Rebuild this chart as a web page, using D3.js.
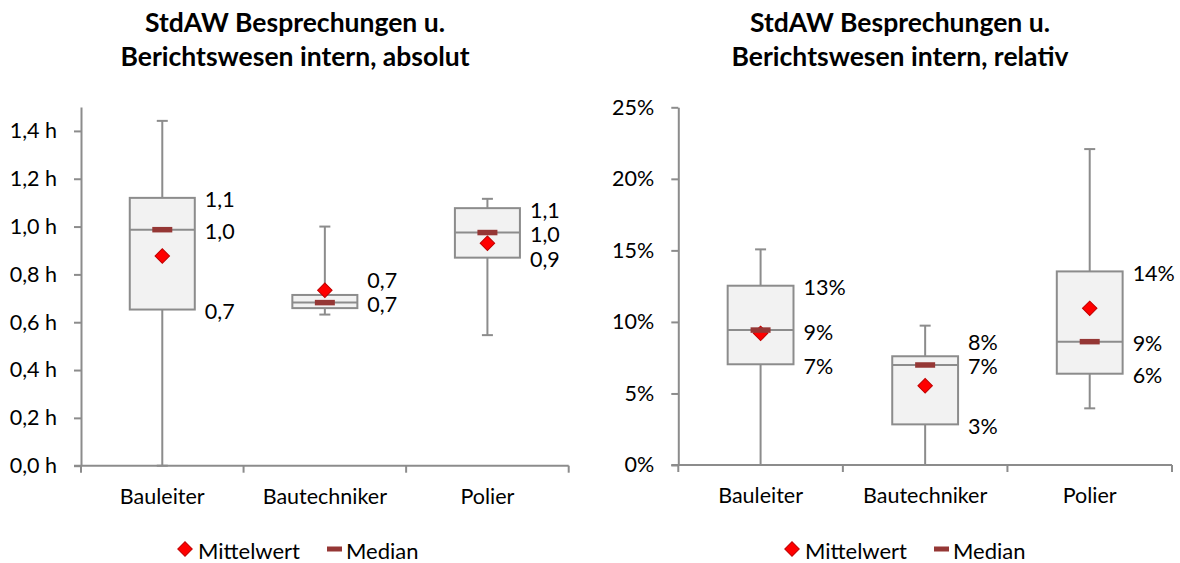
<!DOCTYPE html>
<html>
<head>
<meta charset="utf-8">
<script src="https://cdn.jsdelivr.net/npm/d3@7/dist/d3.min.js"></script>
<style>
  html, body { margin: 0; padding: 0; background: #ffffff; }
  svg { display: block; font-family: Lato, "Open Sans", sans-serif; }
</style>
</head>
<body>
<svg id="chart" width="1180" height="563"></svg>
<script>
// Categories shared by both panels
const categories = ["Bauleiter", "Bautechniker", "Polier"];

// Absolute time (hours)
const absMin    = [0.000, 0.632, 0.546];
const absQ1     = [0.653, 0.659, 0.870];
const absMedian = [0.987, 0.682, 0.975];
const absQ3     = [1.120, 0.714, 1.077];
const absMax    = [1.442, 1.000, 1.116];
const absMean   = [0.877, 0.734, 0.930];
const absTicks  = [0, 0.2, 0.4, 0.6, 0.8, 1.0, 1.2, 1.4];

// Relative share (percent)
const relMin    = [0.00, 0.00, 3.96];
const relQ1     = [7.04, 2.84, 6.38];
const relMedian = [9.43, 6.99, 8.62];
const relQ3     = [12.53, 7.60, 13.53];
const relMax    = [15.07, 9.74, 22.08];
const relMean   = [9.20, 5.54, 10.95];
const relTicks  = [0, 5, 10, 15, 20, 25];

const legendLabels = ["Mittelwert", "Median"];

const svg = d3.select("#chart");
const axisColor = "#8c8c8c";
const medianColor = "#953735";
const meanColor = "#ff0000";
const meanStroke = "#c00000";
const boxFill = "#f2f2f2";
const fontSize = 21.5;

function rows(min, q1, med, q3, max, mean) {
  return categories.map((c, i) => ({
    cat: c, min: min[i], q1: q1[i], med: med[i], q3: q3[i], max: max[i], mean: mean[i]
  }));
}

function drawPanel(cfg) {
  const g = svg.append("g");
  const y = d3.scaleLinear().domain(cfg.domain).range([cfg.bottom, cfg.top]);
  const x = d3.scaleBand().domain(categories).range([cfg.left, cfg.right]).padding(0);
  const boxW = x.bandwidth() * 0.4;
  const capW = 11;

  // Title (two lines)
  const title = g.append("text")
    .attr("x", cfg.titleX).attr("y", 32)
    .attr("text-anchor", "middle")
    .attr("font-size", 26.5).attr("font-weight", 700).attr("fill", "#000");
  cfg.title.forEach((t, i) => title.append("tspan").attr("x", cfg.titleX).attr("dy", i === 0 ? 0 : 34).text(t));

  // Y axis
  const yAxis = d3.axisLeft(y).tickValues(cfg.ticks).tickFormat(cfg.tickFormat)
    .tickSize(7).tickSizeOuter(0).tickPadding(17);
  const ya = g.append("g").attr("transform", `translate(${cfg.left},0)`).call(yAxis);
  ya.select(".domain").attr("stroke", axisColor).attr("stroke-width", 2);
  ya.selectAll(".tick line").attr("stroke", axisColor).attr("stroke-width", 2);
  ya.selectAll(".tick text").attr("font-size", fontSize).attr("fill", "#000")
    .attr("font-family", "Lato, sans-serif");

  // X axis: baseline, ticks at category boundaries, labels at centres
  g.append("line").attr("x1", cfg.left - 7).attr("x2", cfg.right)
    .attr("y1", cfg.bottom).attr("y2", cfg.bottom)
    .attr("stroke", axisColor).attr("stroke-width", 2);
  const bounds = categories.map(c => x(c)).concat([x(categories[categories.length - 1]) + x.bandwidth()]);
  g.selectAll(".xtick").data(bounds).enter().append("line")
    .attr("x1", d => d).attr("x2", d => d)
    .attr("y1", cfg.bottom).attr("y2", cfg.bottom + 7)
    .attr("stroke", axisColor).attr("stroke-width", 2);
  g.selectAll(".xlab").data(categories).enter().append("text")
    .attr("x", d => x(d) + x.bandwidth() / 2).attr("y", cfg.bottom + 38)
    .attr("text-anchor", "middle").attr("font-size", fontSize).attr("fill", "#000")
    .text(d => d);

  const data = cfg.data;
  const cx = d => x(d.cat) + x.bandwidth() / 2;

  // Whiskers
  g.selectAll(".whisker").data(data).enter().append("line")
    .attr("x1", cx).attr("x2", cx)
    .attr("y1", d => y(d.min)).attr("y2", d => y(d.max))
    .attr("stroke", axisColor).attr("stroke-width", 2);
  ["min", "max"].forEach(k => {
    g.selectAll(".cap-" + k).data(data).enter().append("line")
      .attr("x1", d => cx(d) - capW / 2).attr("x2", d => cx(d) + capW / 2)
      .attr("y1", d => y(d[k])).attr("y2", d => y(d[k]))
      .attr("stroke", axisColor).attr("stroke-width", 2);
  });

  // Boxes
  g.selectAll(".box").data(data).enter().append("rect")
    .attr("x", d => cx(d) - boxW / 2).attr("width", boxW)
    .attr("y", d => y(d.q3)).attr("height", d => y(d.q1) - y(d.q3))
    .attr("fill", boxFill).attr("stroke", axisColor).attr("stroke-width", 2);
  g.selectAll(".medline").data(data).enter().append("line")
    .attr("x1", d => cx(d) - boxW / 2).attr("x2", d => cx(d) + boxW / 2)
    .attr("y1", d => y(d.med)).attr("y2", d => y(d.med))
    .attr("stroke", axisColor).attr("stroke-width", 2);

  // Mean diamonds
  const diamond = d3.symbol().type(d3.symbolSquare).size(105);
  g.selectAll(".mean").data(data).enter().append("path")
    .attr("d", diamond)
    .attr("transform", d => `translate(${cx(d)},${y(d.mean)}) rotate(45)`)
    .attr("fill", meanColor).attr("stroke", meanStroke).attr("stroke-width", 1);

  // Median markers
  g.selectAll(".median").data(data).enter().append("rect")
    .attr("x", d => cx(d) - 10).attr("width", 20)
    .attr("y", d => y(d.med) - 2.75).attr("height", 5.5)
    .attr("fill", medianColor);

  // Value labels for Q3, median and Q1, nudged apart where they collide
  data.forEach(d => {
    const lx = cx(d) + boxW / 2 + 10;
    const ym = y(d.med);
    let y3 = y(d.q3);
    const y1 = y(d.q1);
    if (ym - y3 < 18) y3 = ym - 24;
    const labels = [{ v: d.q3, py: y3 }, { v: d.med, py: ym }];
    if (y1 - ym >= 18) labels.push({ v: d.q1, py: y1 });
    labels.forEach(l => {
      g.append("text").attr("x", lx).attr("y", l.py + 1.5)
        .attr("dominant-baseline", "central")
        .attr("font-size", fontSize).attr("fill", "#000")
        .text(cfg.labelFormat(l.v));
    });
  });

  // Legend
  const ly = 549;
  g.append("path").attr("d", diamond)
    .attr("transform", `translate(${cfg.legendX},${ly}) rotate(45)`)
    .attr("fill", meanColor).attr("stroke", meanStroke).attr("stroke-width", 1);
  g.append("text").attr("x", cfg.legendX + 13).attr("y", ly + 1)
    .attr("dominant-baseline", "central").attr("font-size", 22).attr("fill", "#000")
    .text(legendLabels[0]);
  g.append("rect").attr("x", cfg.legendX + 142).attr("width", 15)
    .attr("y", ly - 2.5).attr("height", 5).attr("fill", medianColor);
  g.append("text").attr("x", cfg.legendX + 161).attr("y", ly + 1)
    .attr("dominant-baseline", "central").attr("font-size", 22).attr("fill", "#000")
    .text(legendLabels[1]);
}

const commaFix = (v, n) => v.toFixed(n).replace(".", ",");

drawPanel({
  title: ["StdAW Besprechungen u.", "Berichtswesen intern, absolut"],
  titleX: 295,
  domain: [0, 1.5], top: 107, bottom: 465.7,
  left: 81, right: 568.7,
  ticks: absTicks,
  tickFormat: v => commaFix(v, 1) + " h",
  labelFormat: v => commaFix(v, 1),
  data: rows(absMin, absQ1, absMedian, absQ3, absMax, absMean),
  legendX: 185
});

drawPanel({
  title: ["StdAW Besprechungen u.", "Berichtswesen intern, relativ"],
  titleX: 900,
  domain: [0, 25], top: 107.3, bottom: 465,
  left: 678.3, right: 1172,
  ticks: relTicks,
  tickFormat: v => v + "%",
  labelFormat: v => Math.round(v) + "%",
  data: rows(relMin, relQ1, relMedian, relQ3, relMax, relMean),
  legendX: 792
});
</script>
</body>
</html>
